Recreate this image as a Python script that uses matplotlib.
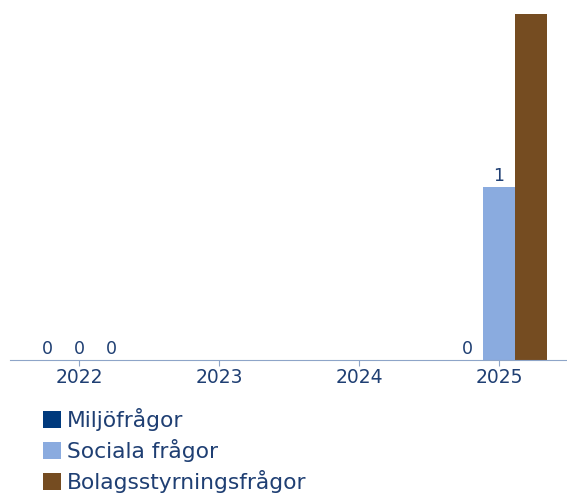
import numpy as np
import matplotlib
matplotlib.use("Agg")
import matplotlib.pyplot as plt

# Data
years = ["2022", "2023", "2024", "2025"]
serier = ["Miljöfrågor", "Sociala frågor", "Bolagsstyrningsfrågor"]
miljo = [0, np.nan, np.nan, 0]
sociala = [0, np.nan, np.nan, 1]
bolag = [0, np.nan, np.nan, 2]

farger = ["#003a7d", "#8aabdf", "#754c21"]
textfarg = "#1f3f73"

fig = plt.figure(figsize=(5.67, 4.93), dpi=100)
ax = fig.add_axes([10 / 567, 133 / 493, 557 / 567, 346 / 493])

ymax = 2
x = np.arange(len(years))
bredd = 0.228
for i, (namn, varden) in enumerate(zip(serier, [miljo, sociala, bolag])):
    pos = x + (i - 1) * bredd
    ax.bar(pos, varden, width=bredd, color=farger[i], label=namn)
    for p, v in zip(pos, varden):
        # etiketter som hamnar ovanför kanten syns inte i originalet
        if np.isnan(v) or v >= ymax:
            continue
        ax.text(p, v + 0.01, f"{v:.0f}", ha="center", va="bottom",
                fontsize=12.5, color=textfarg)

ax.set_xlim(-0.493, 3.486)
ax.set_ylim(0, ymax)
ax.set_xticks(x)
ax.set_xticklabels(years, fontsize=13.5, color=textfarg)
ax.set_yticks([])
for s in ["top", "right", "left"]:
    ax.spines[s].set_visible(False)
ax.spines["bottom"].set_color("#8ea5c8")
ax.tick_params(axis="x", length=4, color="#8ea5c8", pad=2)

fig.legend(loc="upper left", bbox_to_anchor=(0.076, 0.172), frameon=False,
           fontsize=15.7, labelcolor=textfarg, handlelength=0.8,
           handleheight=0.8, handletextpad=0.3, labelspacing=0.37,
           borderpad=0, borderaxespad=0)

fig.savefig("out.png", dpi=100)
